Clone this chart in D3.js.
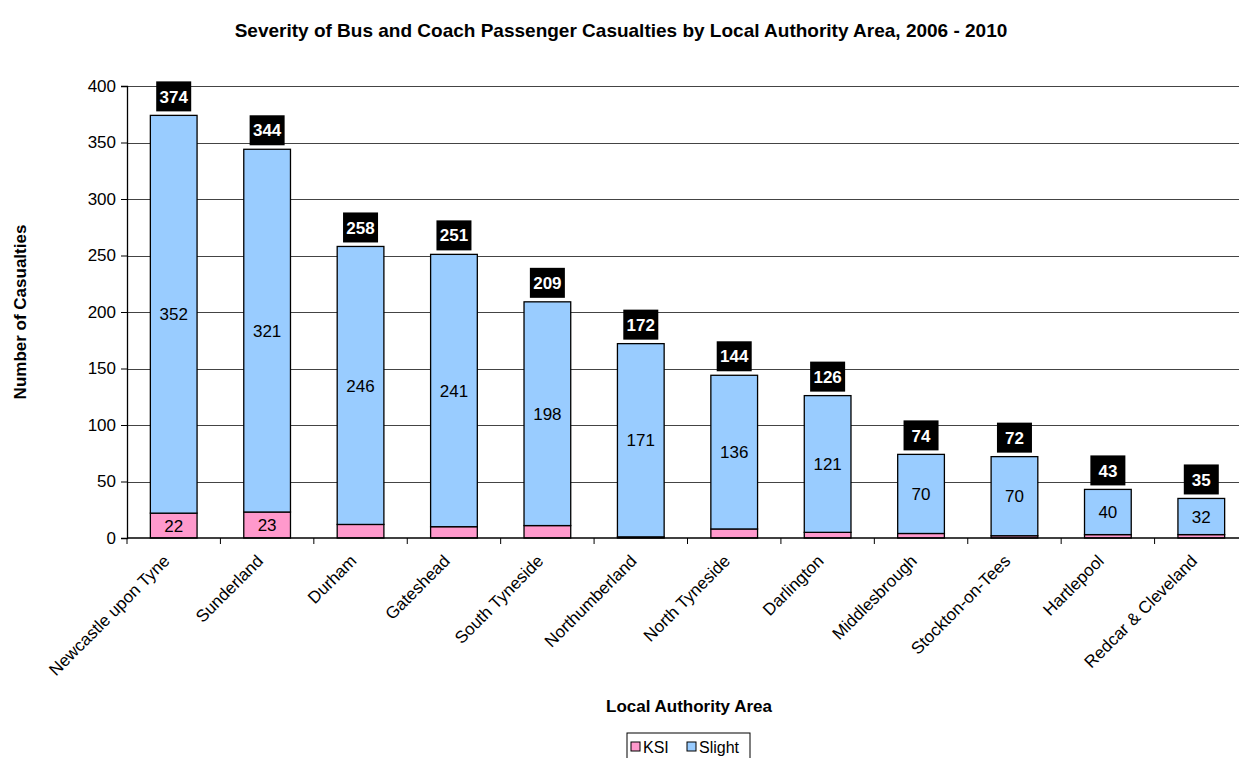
<!DOCTYPE html>
<html>
<head>
<meta charset="utf-8">
<script src="https://cdn.jsdelivr.net/npm/d3@7"></script>
<style>
  body { margin: 0; background: #fff; }
  svg { font-family: Arial, "Liberation Sans", sans-serif; }
</style>
</head>
<body>
<svg id="chart" width="1239" height="758"></svg>
<script>
// Chart data
const areas = ["Newcastle upon Tyne", "Sunderland", "Durham", "Gateshead", "South Tyneside",
    "Northumberland", "North Tyneside", "Darlington", "Middlesbrough", "Stockton-on-Tees",
    "Hartlepool", "Redcar & Cleveland"];
const ksi = [22, 23, 12, 10, 11, 1, 8, 5, 4, 2, 3, 3];
const slight = [352, 321, 246, 241, 198, 171, 136, 121, 70, 70, 40, 32];
const yTicks = [0, 50, 100, 150, 200, 250, 300, 350, 400];
const seriesNames = ["KSI", "Slight"];
const seriesColors = ["#FF99CC", "#99CCFF"];

const svg = d3.select("#chart");

const margin = { left: 127, right: -9, top: 86, bottom: 220 };
const width = 1239, height = 758;

const x = d3.scaleBand()
    .domain(areas)
    .range([margin.left, width - margin.right])
    .paddingInner(0.5)
    .paddingOuter(0.25);

const y = d3.scaleLinear()
    .domain([0, 400])
    .range([538, margin.top]);

// Gridlines
svg.append("g")
    .selectAll("line")
    .data(yTicks.filter(d => d > 0))
    .enter().append("line")
    .attr("x1", margin.left)
    .attr("x2", width - margin.right)
    .attr("y1", d => Math.round(y(d)) + 0.5)
    .attr("y2", d => Math.round(y(d)) + 0.5)
    .attr("stroke", "#444")
    .attr("stroke-width", 1);

// Stack data
const rows = areas.map((a, i) => ({ area: a, KSI: ksi[i], Slight: slight[i], total: ksi[i] + slight[i] }));
const stacked = d3.stack().keys(seriesNames)(rows);

const color = d3.scaleOrdinal().domain(seriesNames).range(seriesColors);

const layers = svg.selectAll(".layer")
    .data(stacked)
    .enter().append("g")
    .attr("class", "layer")
    .attr("fill", d => color(d.key));

layers.selectAll("rect")
    .data(d => d)
    .enter().append("rect")
    .attr("x", d => x(d.data.area))
    .attr("width", x.bandwidth())
    .attr("y", d => y(d[1]))
    .attr("height", d => y(d[0]) - y(d[1]))
    .attr("stroke", "#000")
    .attr("stroke-width", 1.3);

// Segment labels (only where there is room)
layers.selectAll("text")
    .data(d => d.filter(s => y(s[0]) - y(s[1]) > 18))
    .enter().append("text")
    .attr("x", d => x(d.data.area) + x.bandwidth() / 2)
    .attr("y", d => (y(d[0]) + y(d[1])) / 2)
    .attr("dy", "0.36em")
    .attr("text-anchor", "middle")
    .attr("font-size", "17px")
    .attr("fill", "#000")
    .text(d => d[1] - d[0]);

// Total labels in black boxes
const totals = svg.append("g")
    .selectAll("g")
    .data(rows)
    .enter().append("g")
    .attr("transform", d => `translate(${x(d.area) + x.bandwidth() / 2},${y(d.total) - 19})`);

totals.append("rect")
    .attr("x", -17.5)
    .attr("y", -15)
    .attr("width", 35)
    .attr("height", 30)
    .attr("fill", "#000");

totals.append("text")
    .attr("text-anchor", "middle")
    .attr("dy", "0.36em")
    .attr("font-size", "17px")
    .attr("font-weight", "bold")
    .attr("fill", "#fff")
    .text(d => d.total);

// Y axis
const yAxis = svg.append("g")
    .attr("transform", `translate(${margin.left},0)`)
    .call(d3.axisLeft(y).tickValues(yTicks).tickSize(6).tickPadding(5));
yAxis.select(".domain").attr("stroke", "#000").attr("stroke-width", 1.3);
yAxis.selectAll(".tick line").attr("stroke", "#000");
yAxis.selectAll("text").attr("font-size", "17px").attr("font-family", "Arial, 'Liberation Sans', sans-serif").attr("fill", "#000");

// X axis baseline and ticks between categories
svg.append("line")
    .attr("x1", margin.left).attr("x2", width - margin.right)
    .attr("y1", y(0)).attr("y2", y(0))
    .attr("stroke", "#000").attr("stroke-width", 1.3);

const step = x.step();
svg.append("g")
    .selectAll("line")
    .data(d3.range(areas.length + 1))
    .enter().append("line")
    .attr("x1", i => margin.left + i * step)
    .attr("x2", i => margin.left + i * step)
    .attr("y1", y(0))
    .attr("y2", y(0) + 6)
    .attr("stroke", "#000");

// X labels
svg.append("g")
    .selectAll("text")
    .data(areas)
    .enter().append("text")
    .attr("transform", d => `translate(${x(d) + x.bandwidth() / 2 - 3},${y(0) + 24}) rotate(-45)`)
    .attr("text-anchor", "end")
    .attr("font-size", "17px")
    .attr("fill", "#000")
    .text(d => d);

// Title
svg.append("text")
    .attr("x", 621)
    .attr("y", 37)
    .attr("text-anchor", "middle")
    .attr("font-size", "19px")
    .attr("font-weight", "bold")
    .text("Severity of Bus and Coach Passenger Casualties by Local Authority Area, 2006 - 2010");

// Axis titles
svg.append("text")
    .attr("transform", "translate(26,312) rotate(-90)")
    .attr("text-anchor", "middle")
    .attr("font-size", "17px")
    .attr("font-weight", "bold")
    .text("Number of Casualties");

svg.append("text")
    .attr("x", 689)
    .attr("y", 712)
    .attr("text-anchor", "middle")
    .attr("font-size", "17px")
    .attr("font-weight", "bold")
    .text("Local Authority Area");

// Legend
const legend = svg.append("g").attr("transform", "translate(627,733)");
legend.append("rect")
    .attr("width", 123).attr("height", 30)
    .attr("fill", "#fff").attr("stroke", "#000");

const items = legend.selectAll(".item")
    .data(seriesNames)
    .enter().append("g")
    .attr("class", "item")
    .attr("transform", (d, i) => `translate(${[4, 60][i]},3)`);

items.append("rect")
    .attr("width", 9).attr("height", 9)
    .attr("y", 6)
    .attr("fill", d => color(d))
    .attr("stroke", "#000");

items.append("text")
    .attr("x", 12)
    .attr("y", 17)
    .attr("font-size", "16px")
    .text(d => d);
</script>
</body>
</html>
